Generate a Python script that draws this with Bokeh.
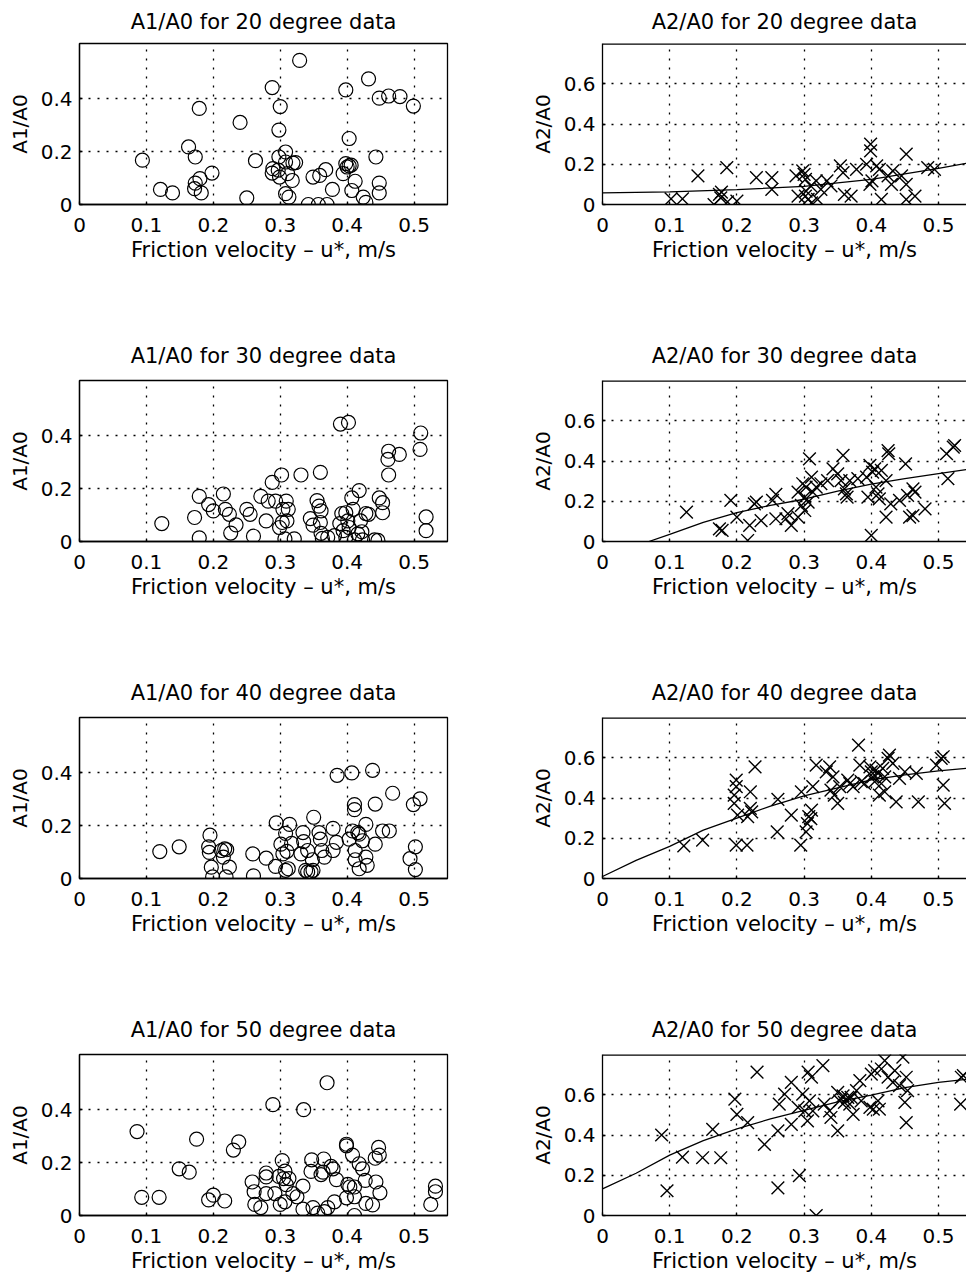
from bokeh.plotting import figure
from bokeh.models import Range1d, FixedTicker, Span
from bokeh.layouts import column, row
from bokeh.embed import file_html
from bokeh.resources import INLINE

FONT = "DejaVu Sans"

# ---------------- data ----------------
angles = [20, 30, 40, 50]
x_ticks = [0, 0.1, 0.2, 0.3, 0.4, 0.5]
x_tick_labels = ["0", "0.1", "0.2", "0.3", "0.4", "0.5"]
y_ticks_a1 = [0, 0.2, 0.4]
y_tick_labels_a1 = ["0", "0.2", "0.4"]
y_ticks_a2 = [0, 0.2, 0.4, 0.6]
y_tick_labels_a2 = ["0", "0.2", "0.4", "0.6"]
x_label = "Friction velocity \u2013 u*, m/s"

# A1/A0, 20 degree
a1_20_x = [0.094, 0.121, 0.139, 0.163, 0.173, 0.179, 0.173, 0.172, 0.180, 0.182, 0.198, 0.240,
           0.250, 0.263, 0.288, 0.300, 0.298, 0.289, 0.288, 0.297, 0.298, 0.308, 0.308, 0.299,
           0.311, 0.319, 0.318, 0.323, 0.308, 0.313, 0.329, 0.349, 0.359, 0.368, 0.342, 0.357,
           0.370, 0.378, 0.398, 0.394, 0.398, 0.400, 0.403, 0.406, 0.403, 0.412, 0.407, 0.424,
           0.428, 0.432, 0.443, 0.448, 0.448, 0.448, 0.462, 0.479, 0.499]
a1_20_y = [0.168, 0.057, 0.044, 0.218, 0.180, 0.364, 0.081, 0.060, 0.098, 0.044, 0.119, 0.311,
           0.025, 0.166, 0.443, 0.371, 0.282, 0.136, 0.119, 0.130, 0.180, 0.199, 0.161, 0.104,
           0.117, 0.157, 0.091, 0.159, 0.041, 0.028, 0.546, 0.104, 0.110, 0.132, 0.0, 0.0,
           0.0, 0.057, 0.434, 0.117, 0.155, 0.142, 0.146, 0.149, 0.250, 0.088, 0.053, 0.028,
           0.008, 0.476, 0.180, 0.081, 0.044, 0.403, 0.411, 0.409, 0.373]

# A2/A0, 20 degree
a2_20_x = [0.102, 0.119, 0.142, 0.166, 0.174, 0.176, 0.177, 0.185, 0.186, 0.200, 0.229, 0.252,
           0.252, 0.288, 0.291, 0.298, 0.300, 0.302, 0.302, 0.303, 0.306, 0.311, 0.310, 0.318,
           0.320, 0.325, 0.334, 0.340, 0.354, 0.358, 0.360, 0.370, 0.378, 0.393, 0.399, 0.399,
           0.398, 0.401, 0.408, 0.412, 0.415, 0.425, 0.430, 0.432, 0.445, 0.452, 0.452, 0.452,
           0.465, 0.484, 0.494]
a2_20_y = [0.028, 0.028, 0.142, 0.0, 0.050, 0.033, 0.062, 0.183, 0.013, 0.017, 0.133, 0.075,
           0.133, 0.142, 0.042, 0.167, 0.150, 0.042, 0.125, 0.067, 0.025, 0.008, 0.092, 0.117,
           0.025, 0.075, 0.117, 0.092, 0.192, 0.158, 0.050, 0.042, 0.175, 0.200, 0.300, 0.267,
           0.100, 0.117, 0.192, 0.175, 0.025, 0.142, 0.100, 0.167, 0.142, 0.250, 0.100, 0.025,
           0.042, 0.183, 0.175]
fit_20_x = [0.0, 0.1, 0.2, 0.3, 0.4, 0.5, 0.55]
fit_20_y = [0.058, 0.063, 0.074, 0.090, 0.125, 0.180, 0.210]

# A1/A0, 30 degree
a1_30_x = [0.123, 0.172, 0.179, 0.179, 0.193, 0.200, 0.215, 0.218, 0.224, 0.226, 0.234, 0.250,
           0.255, 0.260, 0.271, 0.279, 0.282, 0.288, 0.293, 0.302, 0.299, 0.303, 0.304, 0.307,
           0.309, 0.310, 0.312, 0.321, 0.331, 0.345, 0.349, 0.355, 0.358, 0.360, 0.360, 0.361,
           0.361, 0.363, 0.371, 0.381, 0.390, 0.402, 0.389, 0.392, 0.394, 0.398, 0.398, 0.401,
           0.403, 0.407, 0.409, 0.411, 0.416, 0.418, 0.420, 0.422, 0.423, 0.428, 0.432, 0.441,
           0.446, 0.448, 0.453, 0.453, 0.461, 0.462, 0.462, 0.478, 0.510, 0.509, 0.518, 0.518]
a1_30_y = [0.068, 0.091, 0.171, 0.014, 0.140, 0.116, 0.180, 0.122, 0.103, 0.032, 0.063, 0.122,
           0.103, 0.020, 0.171, 0.078, 0.153, 0.224, 0.153, 0.252, 0.053, 0.072, 0.122, 0.010,
           0.153, 0.078, 0.122, 0.010, 0.252, 0.087, 0.062, 0.155, 0.134, 0.262, 0.072, 0.116,
           0.031, 0.012, 0.016, 0.022, 0.445, 0.451, 0.068, 0.106, 0.041, 0.016, 0.109, 0.078,
           0.053, 0.165, 0.122, 0.006, 0.029, 0.193, 0.078, 0.037, 0.006, 0.106, 0.103, 0.006,
           0.004, 0.165, 0.147, 0.109, 0.311, 0.342, 0.252, 0.330, 0.411, 0.349, 0.093, 0.041]

# A2/A0, 30 degree
a2_30_x = [0.125, 0.174, 0.178, 0.191, 0.200, 0.216, 0.219, 0.226, 0.229, 0.236, 0.253, 0.258,
           0.258, 0.273, 0.276, 0.281, 0.291, 0.291, 0.296, 0.298, 0.301, 0.301, 0.303, 0.306,
           0.308, 0.311, 0.313, 0.318, 0.325, 0.335, 0.343, 0.350, 0.355, 0.358, 0.360, 0.363,
           0.364, 0.368, 0.380, 0.393, 0.395, 0.398, 0.400, 0.402, 0.405, 0.407, 0.410, 0.412,
           0.415, 0.422, 0.422, 0.425, 0.426, 0.429, 0.442, 0.451, 0.454, 0.457, 0.462, 0.465,
           0.480, 0.512, 0.522, 0.524, 0.514, 0.462]
a2_30_y = [0.146, 0.063, 0.055, 0.204, 0.121, 0.005, 0.080, 0.187, 0.196, 0.104, 0.204, 0.113,
           0.234, 0.113, 0.138, 0.080, 0.245, 0.121, 0.179, 0.287, 0.220, 0.154, 0.270, 0.196,
           0.411, 0.320, 0.245, 0.270, 0.287, 0.303, 0.361, 0.336, 0.303, 0.428, 0.262, 0.237,
           0.220, 0.303, 0.312, 0.320, 0.220, 0.378, 0.030, 0.345, 0.361, 0.270, 0.237, 0.212,
           0.353, 0.303, 0.121, 0.452, 0.436, 0.187, 0.204, 0.386, 0.229, 0.121, 0.262, 0.245,
           0.162, 0.436, 0.469, 0.477, 0.312, 0.129]
fit_30_x = [0.069, 0.1, 0.15, 0.2, 0.25, 0.3, 0.35, 0.4, 0.45, 0.5, 0.55]
fit_30_y = [0.0, 0.035, 0.095, 0.143, 0.180, 0.210, 0.250, 0.285, 0.312, 0.337, 0.362]

# A1/A0, 40 degree
a1_40_x = [0.120, 0.149, 0.195, 0.193, 0.194, 0.197, 0.199, 0.212, 0.217, 0.220, 0.215, 0.219,
           0.224, 0.259, 0.260, 0.279, 0.294, 0.293, 0.301, 0.304, 0.308, 0.308, 0.310, 0.312,
           0.314, 0.317, 0.331, 0.334, 0.335, 0.338, 0.341, 0.341, 0.346, 0.348, 0.349, 0.350,
           0.358, 0.360, 0.362, 0.366, 0.379, 0.379, 0.384, 0.385, 0.403, 0.408, 0.407, 0.411,
           0.411, 0.412, 0.412, 0.416, 0.418, 0.418, 0.423, 0.428, 0.428, 0.430, 0.438, 0.442,
           0.442, 0.453, 0.463, 0.468, 0.494, 0.502, 0.502, 0.499, 0.509]
a1_40_y = [0.102, 0.120, 0.164, 0.120, 0.099, 0.043, 0.006, 0.106, 0.112, 0.109, 0.081, 0.006,
           0.043, 0.093, 0.010, 0.077, 0.211, 0.046, 0.130, 0.093, 0.171, 0.031, 0.103, 0.037,
           0.205, 0.133, 0.093, 0.174, 0.140, 0.031, 0.106, 0.025, 0.025, 0.071, 0.031, 0.232,
           0.174, 0.149, 0.106, 0.081, 0.190, 0.106, 0.137, 0.391, 0.149, 0.180, 0.400, 0.280,
           0.261, 0.106, 0.071, 0.174, 0.168, 0.037, 0.143, 0.205, 0.081, 0.050, 0.410, 0.282,
           0.130, 0.180, 0.180, 0.323, 0.075, 0.034, 0.120, 0.280, 0.302]

# A2/A0, 40 degree
a2_40_x = [0.121, 0.149, 0.199, 0.199, 0.196, 0.196, 0.199, 0.201, 0.215, 0.216, 0.220, 0.220,
           0.222, 0.227, 0.260, 0.261, 0.281, 0.295, 0.296, 0.303, 0.305, 0.307, 0.310, 0.311,
           0.313, 0.318, 0.333, 0.338, 0.340, 0.343, 0.345, 0.350, 0.353, 0.365, 0.368, 0.373,
           0.381, 0.383, 0.385, 0.390, 0.398, 0.400, 0.402, 0.405, 0.407, 0.410, 0.412, 0.415,
           0.417, 0.420, 0.425, 0.427, 0.432, 0.437, 0.442, 0.450, 0.467, 0.470, 0.497, 0.504,
           0.507, 0.507, 0.509, 0.420]
a2_40_y = [0.162, 0.191, 0.489, 0.456, 0.414, 0.373, 0.166, 0.315, 0.166, 0.307, 0.431, 0.348,
           0.331, 0.555, 0.232, 0.393, 0.315, 0.166, 0.431, 0.232, 0.273, 0.307, 0.298, 0.340,
           0.456, 0.563, 0.530, 0.555, 0.439, 0.505, 0.414, 0.373, 0.456, 0.489, 0.472, 0.456,
           0.663, 0.563, 0.481, 0.472, 0.555, 0.530, 0.505, 0.481, 0.539, 0.522, 0.414, 0.472,
           0.547, 0.505, 0.597, 0.613, 0.572, 0.381, 0.497, 0.530, 0.522, 0.381, 0.563, 0.597,
           0.605, 0.464, 0.373, 0.431]
fit_40_x = [0.0, 0.05, 0.1, 0.15, 0.2, 0.25, 0.3, 0.35, 0.4, 0.45, 0.5, 0.55]
fit_40_y = [0.010, 0.090, 0.160, 0.240, 0.300, 0.360, 0.410, 0.450, 0.490, 0.515, 0.535, 0.550]

# A1/A0, 50 degree
a1_50_x = [0.086, 0.093, 0.119, 0.149, 0.164, 0.175, 0.193, 0.200, 0.217, 0.230, 0.238, 0.258,
           0.261, 0.262, 0.271, 0.279, 0.279, 0.279, 0.289, 0.292, 0.298, 0.300, 0.303, 0.305,
           0.307, 0.309, 0.313, 0.307, 0.319, 0.325, 0.335, 0.334, 0.334, 0.347, 0.346, 0.349,
           0.356, 0.361, 0.365, 0.364, 0.366, 0.370, 0.371, 0.376, 0.379, 0.381, 0.384, 0.399,
           0.399, 0.399, 0.401, 0.404, 0.408, 0.411, 0.411, 0.411, 0.418, 0.423, 0.427, 0.428,
           0.438, 0.442, 0.443, 0.447, 0.448, 0.449, 0.525, 0.532, 0.532]
a1_50_y = [0.318, 0.069, 0.069, 0.177, 0.164, 0.289, 0.059, 0.077, 0.055, 0.248, 0.279, 0.127,
           0.090, 0.042, 0.030, 0.161, 0.146, 0.083, 0.420, 0.083, 0.148, 0.042, 0.208, 0.140,
           0.168, 0.117, 0.140, 0.052, 0.083, 0.071, 0.401, 0.111, 0.024, 0.211, 0.167, 0.030,
           0.009, 0.155, 0.214, 0.164, 0.015, 0.503, 0.030, 0.186, 0.177, 0.052, 0.136, 0.264,
           0.270, 0.067, 0.118, 0.108, 0.229, 0.108, 0.071, 0.0, 0.196, 0.177, 0.133, 0.046,
           0.040, 0.217, 0.127, 0.258, 0.229, 0.086, 0.042, 0.111, 0.090]

# A2/A0, 50 degree
a2_50_x = [0.088, 0.096, 0.119, 0.149, 0.164, 0.176, 0.197, 0.200, 0.216, 0.230, 0.241, 0.261,
           0.261, 0.263, 0.271, 0.281, 0.281, 0.291, 0.293, 0.298, 0.301, 0.305, 0.306, 0.308,
           0.311, 0.313, 0.318, 0.328, 0.330, 0.338, 0.340, 0.350, 0.353, 0.350, 0.358, 0.360,
           0.365, 0.368, 0.370, 0.373, 0.378, 0.383, 0.385, 0.398, 0.400, 0.403, 0.405, 0.410,
           0.412, 0.415, 0.420, 0.425, 0.432, 0.435, 0.442, 0.447, 0.450, 0.452, 0.452, 0.454,
           0.534, 0.533, 0.537]
a2_50_y = [0.400, 0.123, 0.290, 0.287, 0.428, 0.287, 0.578, 0.503, 0.462, 0.712, 0.353, 0.137,
           0.420, 0.553, 0.603, 0.662, 0.453, 0.537, 0.198, 0.603, 0.520, 0.470, 0.712, 0.570,
           0.687, 0.520, 0.0, 0.745, 0.553, 0.520, 0.487, 0.420, 0.570, 0.612, 0.595, 0.562,
           0.587, 0.553, 0.587, 0.503, 0.620, 0.670, 0.570, 0.537, 0.703, 0.528, 0.720, 0.570,
           0.528, 0.728, 0.770, 0.687, 0.662, 0.720, 0.645, 0.787, 0.562, 0.687, 0.462, 0.620,
           0.687, 0.553, 0.695]
fit_50_x = [0.0, 0.05, 0.1, 0.15, 0.2, 0.25, 0.3, 0.35, 0.4, 0.45, 0.5, 0.55]
fit_50_y = [0.132, 0.210, 0.300, 0.372, 0.430, 0.480, 0.522, 0.565, 0.598, 0.635, 0.662, 0.680]

a1_sets = [(a1_20_x, a1_20_y), (a1_30_x, a1_30_y), (a1_40_x, a1_40_y), (a1_50_x, a1_50_y)]
a2_sets = [(a2_20_x, a2_20_y, fit_20_x, fit_20_y), (a2_30_x, a2_30_y, fit_30_x, fit_30_y),
           (a2_40_x, a2_40_y, fit_40_x, fit_40_y), (a2_50_x, a2_50_y, fit_50_x, fit_50_y)]


def style_axis(ax, ticks, labels, font_size="20px"):
    ax.ticker = FixedTicker(ticks=ticks)
    ax.axis_line_color = "black"
    ax.axis_line_width = 1.3
    ax.major_tick_line_color = "black"
    ax.major_tick_line_width = 1.3
    ax.major_tick_in = 3
    ax.major_tick_out = 0
    ax.minor_tick_line_color = None
    ax.major_label_overrides = {t: l for t, l in zip(ticks, labels)}
    ax.major_label_text_font = FONT
    ax.major_label_text_font_size = font_size
    ax.major_label_text_color = "black"
    ax.axis_label_text_color = "black"


def make_panel(kind, angle, xs, ys, fx=None, fy=None, idx=0):
    left = kind == "A1"
    first = idx == 0
    last = idx == len(angles) - 1
    x_end = 0.55 if left else 0.5417
    y_end = 0.61 if left else 0.80
    yt = y_ticks_a1 if left else y_ticks_a2
    ytl = y_tick_labels_a1 if left else y_tick_labels_a2
    p = figure(frame_width=368 if left else 364, frame_height=161,
               x_range=Range1d(0, x_end), y_range=Range1d(0, y_end),
               output_backend="svg", toolbar_location=None,
               min_border_left=79 if left else 102,
               min_border_right=53 if left else 0,
               min_border_top=43 if first else 49,
               min_border_bottom=62 if last else 127,
               title=f"{kind}/A0 for {angle} degree data")
    p.background_fill_color = "white"
    p.border_fill_color = "white"
    if left:
        p.outline_line_color = "black"
        p.outline_line_width = 1.3
        p.outline_line_alpha = 1.0
    else:
        p.outline_line_color = None
        p.add_layout(Span(location=y_end, dimension="width",
                          line_color="black", line_width=2.6))
    p.title.align = "center"
    p.title.vertical_align = "top"
    p.title.text_font = FONT
    p.title.text_font_size = "21px"
    p.title.text_font_style = "normal"
    p.title.text_color = "black"
    p.title.standoff = 16 if first else 22
    if not left:
        p.title.offset = 3

    style_axis(p.xaxis[0], x_ticks, x_tick_labels)
    p.xaxis.major_label_standoff = 13
    p.xaxis.axis_label = x_label
    p.xaxis.axis_label_text_font = FONT
    p.xaxis.axis_label_text_font_size = "21px"
    p.xaxis.axis_label_text_font_style = "normal"
    p.xaxis.axis_label_standoff = 3

    style_axis(p.yaxis[0], yt, ytl)
    p.yaxis.major_label_standoff = 7
    p.yaxis.axis_label = f"{kind}/A0"
    p.yaxis.axis_label_text_font = FONT
    p.yaxis.axis_label_text_font_size = "20px"
    p.yaxis.axis_label_text_font_style = "normal"
    p.yaxis.axis_label_standoff = 6

    for g in (p.xgrid, p.ygrid):
        g.grid_line_color = "black"
        g.grid_line_width = 1.3
        g.grid_line_dash = "2 7"
    p.xgrid.ticker = FixedTicker(ticks=x_ticks)
    p.ygrid.ticker = FixedTicker(ticks=yt)

    if left:
        p.scatter(xs, ys, marker="circle", size=14, fill_color=None,
                  line_color="black", line_width=1.2)
    else:
        p.line(fx, fy, line_color="black", line_width=1.3)
        p.scatter(xs, ys, marker="x", size=18, line_color="black", line_width=1.4)
    return p


rows = []
for i, ang in enumerate(angles):
    ax1, ay1 = a1_sets[i]
    bx, by, fx, fy = a2_sets[i]
    pl = make_panel("A1", ang, ax1, ay1, idx=i)
    pr = make_panel("A2", ang, bx, by, fx, fy, idx=i)
    rows.append(row(pl, pr))

layout = column(*rows)
open("out.html", "w").write(file_html(layout, INLINE))
